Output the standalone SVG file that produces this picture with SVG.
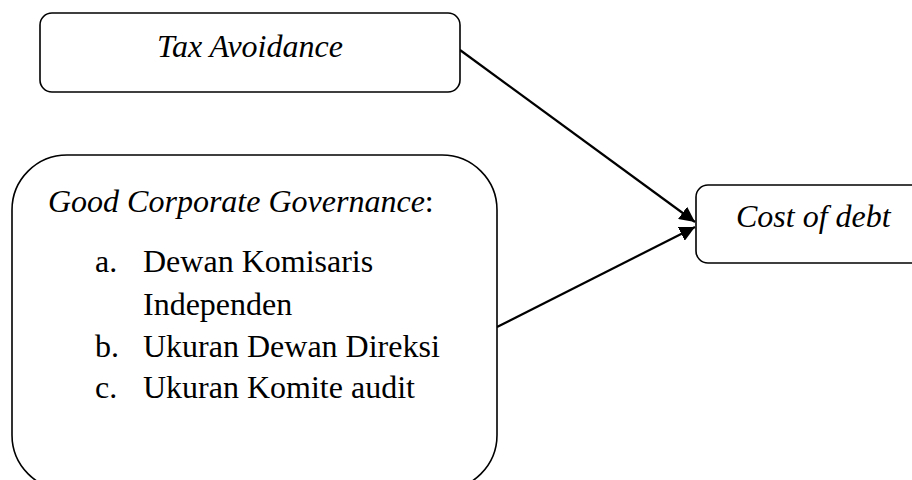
<svg xmlns="http://www.w3.org/2000/svg" width="912" height="480" viewBox="0 0 912 480">
<defs>
<style>
.box{fill:#fff;stroke:#000;stroke-width:1.6}
.t{font-family:"Liberation Serif","Times New Roman",serif;font-size:32px;fill:#000}
.i{font-style:italic}
.edge{stroke:#000;stroke-width:2.2;fill:none}
</style>
<marker id="ah" viewBox="0 0 10 10" refX="10" refY="5" markerWidth="7" markerHeight="7" markerUnits="strokeWidth" orient="auto">
<path d="M0,0 L10,5 L0,10 z" fill="#000"/>
</marker>
</defs>
<rect width="912" height="480" fill="#fff"/>
<g id="connectors">
<line class="edge" x1="460" y1="50" x2="695" y2="222" marker-end="url(#ah)"/>
<line class="edge" x1="497" y1="327" x2="695" y2="227" marker-end="url(#ah)"/>
</g>
<g id="tax-avoidance">
<rect class="box" x="40" y="13" width="420" height="79" rx="12"/>
<text class="t i" x="250" y="57" text-anchor="middle">Tax Avoidance</text>
</g>
<g id="gcg">
<rect class="box" x="12" y="155" width="485" height="335" rx="55"/>
<text class="t" x="48" y="212"><tspan class="i">Good Corporate Governance</tspan>:</text>
<text class="t" x="95" y="272">a.</text>
<text class="t" x="143" y="272">Dewan Komisaris</text>
<text class="t" x="143" y="315">Independen</text>
<text class="t" x="95" y="357">b.</text>
<text class="t" x="143" y="357">Ukuran Dewan Direksi</text>
<text class="t" x="95" y="398">c.</text>
<text class="t" x="143" y="398">Ukuran Komite audit</text>
</g>
<g id="cost-of-debt">
<rect class="box" x="696" y="185" width="240" height="78" rx="12"/>
<text class="t i" x="736" y="227">Cost of debt</text>
</g>
</svg>
